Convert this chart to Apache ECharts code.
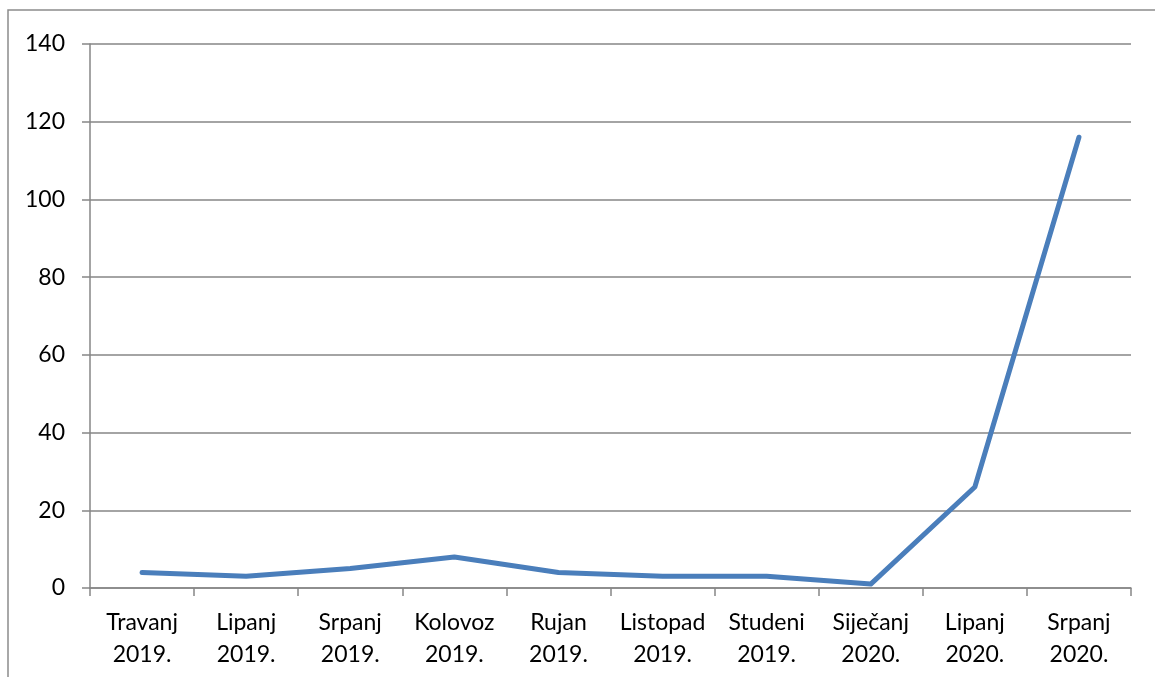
<!DOCTYPE html>
<html><head><meta charset="utf-8">
<script src="https://cdn.jsdelivr.net/npm/echarts@6/dist/echarts.min.js"></script>
<style>html,body{margin:0;padding:0;background:#fff}#c{width:1155px;height:677px}</style>
</head><body><div id="c"></div>
<script>
const categories = ['Travanj\n2019.','Lipanj\n2019.','Srpanj\n2019.','Kolovoz\n2019.','Rujan\n2019.','Listopad\n2019.','Studeni\n2019.','Siječanj\n2020.','Lipanj\n2020.','Srpanj\n2020.'];
const values = [4,3,5,8,4,3,3,1,26,116];
const chart = echarts.init(document.getElementById('c'));
const font = 'Lato, "Open Sans", sans-serif';
chart.setOption({
  animation:false,
  graphic:[{type:'rect',shape:{x:8,y:10,width:1200,height:700},style:{fill:'none',stroke:'#8c8c8c',lineWidth:1.5},silent:true}],
  grid:{left:90,right:24,top:44,bottom:89},
  xAxis:{type:'category',data:categories,boundaryGap:true,
    axisLine:{lineStyle:{color:'#868686',width:1.5}},
    axisTick:{show:true,length:8,inside:false,lineStyle:{color:'#868686',width:1.5}},
    axisLabel:{color:'#000',fontSize:23,fontFamily:font,lineHeight:32,margin:19,interval:0}},
  yAxis:{type:'value',min:0,max:140,interval:20,
    axisLine:{show:true,lineStyle:{color:'#868686',width:1.5}},
    axisTick:{show:true,length:8,lineStyle:{color:'#868686',width:1.5}},
    splitLine:{lineStyle:{color:'#868686',width:1.5}},
    axisLabel:{color:'#000',fontSize:23,fontFamily:font,margin:25}},
  series:[{type:'line',data:values,symbol:'none',lineStyle:{color:'#4a7ebb',width:5,cap:'round',join:'round'}}]
});
</script></body></html>
